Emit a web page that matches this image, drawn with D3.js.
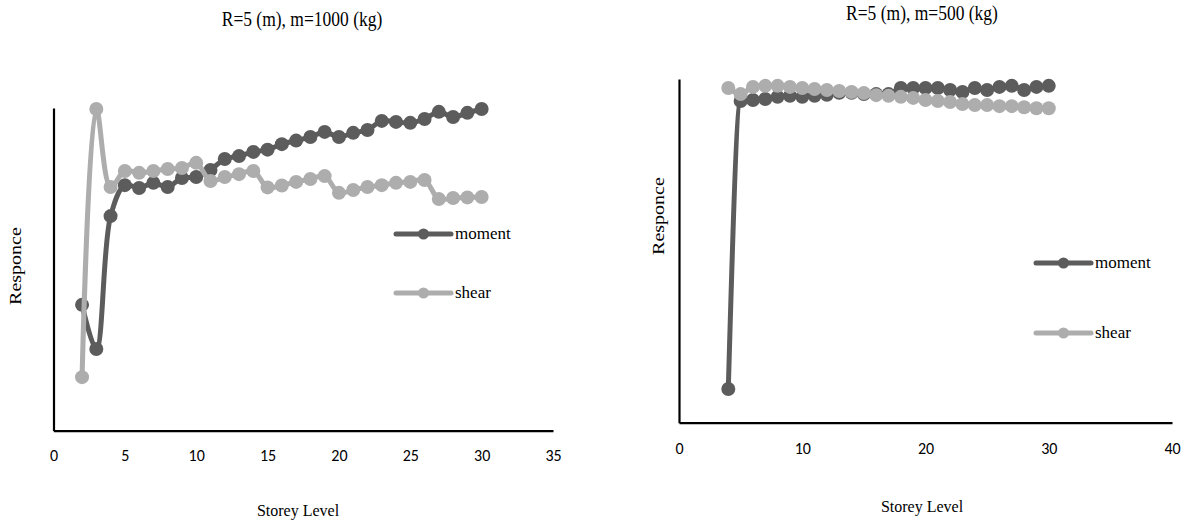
<!DOCTYPE html>
<html>
<head>
<meta charset="utf-8">
<script src="https://cdn.jsdelivr.net/npm/d3@7"></script>
<style>
  body { margin: 0; background: #fff; }
  svg { display: block; }
  .serif { font-family: "Liberation Serif", "Times New Roman", serif; fill: #000; }
  svg .tick text { font-family: Carlito, Lato, "Open Sans", sans-serif; font-size: 16px; fill: #000; }
</style>
</head>
<body>
<svg id="chart" width="1189" height="522"></svg>
<script>
// ---------- data ----------
const storeysLeft = d3.range(2, 31);           // storey levels 2..30
const momentLeft = [39.0, 25.3, 66.5, 76.1, 75.2, 76.8, 75.5, 78.3, 78.6, 80.8, 84.2, 85.1, 86.4, 87.1, 88.8,
                    89.9, 91.0, 92.6, 91.0, 92.3, 93.2, 96.0, 95.7, 95.4, 96.6, 98.8, 97.2, 98.5, 99.7];
const shearLeft  = [16.6, 99.7, 75.5, 80.5, 79.9, 80.5, 81.1, 81.4, 83.0, 77.4, 78.6, 79.5, 80.5, 75.4, 76.0,
                    77.1, 78.0, 78.9, 73.7, 74.6, 75.5, 76.1, 76.8, 77.1, 77.7, 71.8, 72.1, 72.3, 72.4];

const storeysRight = d3.range(4, 31);          // storey levels 4..30
const momentRight = [9.8, 93.6, 93.9, 94.2, 94.8, 95.1, 94.8, 95.1, 95.4, 96.0, 96.0, 95.6, 95.6, 95.6,
                     97.4, 97.4, 97.4, 97.4, 96.8, 96.2, 97.4, 96.8, 97.7, 98.0, 96.8, 97.7, 98.0];
const shearRight  = [97.4, 95.6, 97.7, 98.0, 98.0, 97.7, 97.4, 97.1, 96.8, 96.5, 96.2, 95.9, 95.3, 95.1,
                     94.8, 94.5, 93.9, 93.6, 93.3, 92.7, 92.4, 92.4, 92.1, 92.1, 91.8, 91.5, 91.5];

const seriesNames = ["moment", "shear"];
const ticksLeft = [0, 5, 10, 15, 20, 25, 30, 35];
const ticksRight = [0, 10, 20, 30, 40];
const titles = ["R=5 (m), m=1000 (kg)", "R=5 (m), m=500 (kg)"];
const xTitle = "Storey Level";
const yTitle = "Responce";

// ---------- styling / layout ----------
const colors = { moment: "#5c5c5c", shear: "#adadad" };
const svg = d3.select("#chart");

const panels = [
  {
    storeys: storeysLeft, moment: momentLeft, shear: shearLeft, ticks: ticksLeft, xMax: 35,
    left: 53.5, right: 553, top: 108, bottom: 430.7,
    curve: d3.curveCatmullRom.alpha(0.5),
    title: titles[0], titleX: 302, titleY: 26,
    xTitleX: 298, xTitleY: 516, yTitleX: 21, yTitleY: 266,
    legendX: 396, legendY: [234, 293], tickY: 455
  },
  {
    storeys: storeysRight, moment: momentRight, shear: shearRight, ticks: ticksRight, xMax: 40,
    left: 679, right: 1172, top: 79, bottom: 422.7,
    curve: d3.curveMonotoneX,
    title: titles[1], titleX: 922, titleY: 20,
    xTitleX: 922, xTitleY: 512, yTitleX: 664, yTitleY: 216,
    legendX: 1036, legendY: [263, 333], tickY: 448
  }
];

panels.forEach(p => {
  const x = d3.scaleLinear().domain([0, p.xMax]).range([p.left, p.right]);
  const y = d3.scaleLinear().domain([0, 100]).range([p.bottom, p.top]);
  const g = svg.append("g");

  // x axis
  const xAxis = d3.axisBottom(x).tickValues(p.ticks).tickSize(0).tickPadding(0);
  const ax = g.append("g").attr("transform", `translate(0,${p.bottom})`).call(xAxis);
  ax.select(".domain").attr("stroke", "#000").attr("stroke-width", 2.2);
  ax.selectAll(".tick text")
    .attr("y", p.tickY - p.bottom).attr("dy", "0.35em")
    .style("font-size", "16px");

  // y axis (no ticks)
  const yAxis = d3.axisLeft(y).tickValues([]).tickSizeOuter(0);
  const ay = g.append("g").attr("transform", `translate(${p.left},0)`).call(yAxis);
  ay.select(".domain").attr("stroke", "#000").attr("stroke-width", 2.2);

  // lines
  const line = d3.line()
    .x(d => x(d[0])).y(d => y(d[1]))
    .curve(p.curve);

  seriesNames.forEach(name => {
    const data = p.storeys.map((s, i) => [s, p[name][i]]);
    g.append("path").datum(data)
      .attr("fill", "none").attr("stroke", colors[name])
      .attr("stroke-width", 5).attr("stroke-linejoin", "round").attr("stroke-linecap", "round")
      .attr("d", line);
    g.selectAll(null).data(data).enter().append("circle")
      .attr("cx", d => x(d[0])).attr("cy", d => y(d[1])).attr("r", 7)
      .attr("fill", colors[name]);
  });

  // legend
  seriesNames.forEach((name, i) => {
    const ly = p.legendY[i];
    g.append("line").attr("x1", p.legendX).attr("x2", p.legendX + 55)
      .attr("y1", ly).attr("y2", ly).attr("stroke", colors[name])
      .attr("stroke-width", 5).attr("stroke-linecap", "round");
    g.append("circle").attr("cx", p.legendX + 27.5).attr("cy", ly).attr("r", 5.5).attr("fill", colors[name]);
    g.append("text").attr("class", "serif").attr("x", p.legendX + 59).attr("y", ly)
      .attr("dy", "0.32em").attr("font-size", 17).text(name);
  });

  // titles
  g.append("text").attr("class", "serif")
    .attr("transform", `translate(${p.titleX},${p.titleY}) scale(1,1.15)`)
    .attr("text-anchor", "middle").attr("font-size", 17.5).text(p.title);
  g.append("text").attr("class", "serif").attr("x", p.xTitleX).attr("y", p.xTitleY)
    .attr("text-anchor", "middle").attr("font-size", 16).text(xTitle);
  g.append("text").attr("class", "serif")
    .attr("transform", `translate(${p.yTitleX},${p.yTitleY}) scale(1,1.25) rotate(-90)`)
    .attr("text-anchor", "middle").attr("font-size", 16).text(yTitle);
});
</script>
</body>
</html>
